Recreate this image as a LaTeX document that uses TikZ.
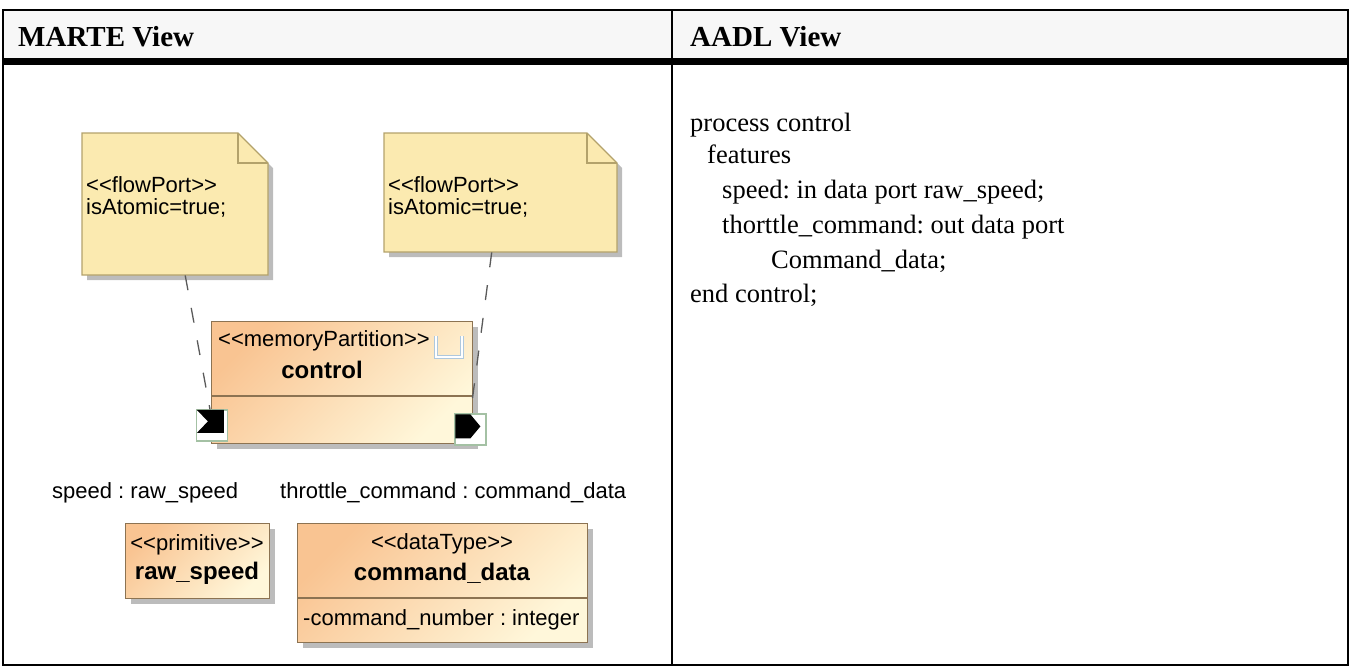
\documentclass[tikz,border=0pt]{standalone}
\usepackage{fontspec}
\setmainfont{Liberation Serif}
\newfontfamily\umlfont{Liberation Sans}
\usetikzlibrary{positioning,calc,shadows}
\frenchspacing
\definecolor{headgray}{HTML}{F7F7F7}
\definecolor{notefill}{HTML}{FBEAB0}
\definecolor{noteline}{HTML}{B3A26B}
\definecolor{boxorange}{HTML}{F9C492}
\definecolor{boxcream}{HTML}{FFF7DA}
\definecolor{boxline}{HTML}{8C7352}
\definecolor{shadegray}{HTML}{BCBCBC}
\definecolor{portline}{HTML}{A4C1A4}
\definecolor{iconblue}{HTML}{AFC8DD}
\definecolor{linkgray}{HTML}{5A5A5A}
\newcommand{\stereo}[1]{<\kern0pt<#1>\kern0pt>}
\newcommand{\flownote}[5]{%
  \filldraw[fill=notefill,draw=noteline,line width=1.3pt,
        drop shadow={shadow xshift=5pt,shadow yshift=-5pt,fill=shadegray,opacity=1}]
        (#2,#3) -- ++(#4-30,0) -- ++(30,30) -- ++(0,#5-30) -- ++(-#4,0) -- cycle;
  \draw[noteline,line width=1.3pt] (#2+#4-30,#3) |- ++(30,30);
  \node[inner sep=0pt,minimum width=#4pt,minimum height=#5pt,anchor=north west] (#1) at (#2,#3) {};
  \node[umltext,anchor=north west,align=left] (#1txt) at ($(#1.north west)+(4,43)$)
        {\stereo{flowPort}\\isAtomic=true;};
}
\tikzset{
  umltext/.style={inner sep=0pt,font=\umlfont\fontsize{22}{22.5}\selectfont},
  umlbold/.style={inner sep=0pt,font=\umlfont\bfseries\fontsize{24}{26}\selectfont},
  umlbox/.style={draw=boxline,line width=1.3pt,top color=boxorange,bottom color=boxcream,
        shading angle=45,inner sep=0pt,anchor=north west,
        drop shadow={shadow xshift=5pt,shadow yshift=-5pt,fill=shadegray,opacity=1}},
  portbox/.style={draw=portline,fill=white,line width=1.2pt,minimum width=31pt,
        minimum height=31pt,inner sep=0pt},
  linkline/.style={draw=linkgray,line width=1.3pt,dash pattern=on 15pt off 18pt},
  headtext/.style={anchor=base west,inner sep=0pt,font=\bfseries\fontsize{29}{31}\selectfont},
  aadltext/.style={anchor=base west,inner sep=0pt,font=\fontsize{26.5}{30}\selectfont}
}
\begin{document}
\begin{tikzpicture}[x=1pt,y=-1pt]
  \useasboundingbox (0,0) rectangle (1351,667);
  \fill[headgray] (3,10) rectangle (1348,58);
  \fill[black] (3,58) rectangle (1348,65);
  \draw[line width=2.5pt] (3,10) rectangle (1348,665);
  \draw[line width=2.5pt] (672,10) -- (672,665);
  \node[headtext] (marte) at (18,46) {MARTE View};
  \node[headtext] (aadl) at (690,46) {AADL View};

  \foreach \dx/\by/\aline [count=\i] in {0/131/process control, 17/163/features,
      32/198/speed: in data port raw\_speed;, 32/233/thorttle\_command: out data port,
      81/268/Command\_data;, 0/302/end control;}
    \node[aadltext] (aadl\i) at (690+\dx,\by) {\aline};

  \flownote{note1}{82}{133}{186}{142}
  \flownote{note2}{384}{133}{233}{119}

  \node[umlbox,minimum width=261pt,minimum height=122pt] (ctrl) at (211,321) {};
  \draw[boxline,line width=1.3pt] ($(ctrl.north west)+(0,75)$) -- ($(ctrl.north east)+(0,75)$);
  \node[umltext,anchor=west] (ctrlst) at (218,341) {\stereo{memoryPartition}};
  \node[umlbold] (ctrlname) at (322,370) {control};
  \draw[iconblue,double=white,double distance=1.6pt,line width=0.9pt]
        (436,336) -- (436,357) -- (462,357) -- (462,336);

  \node[portbox] (inport) at (212,425.5) {};
  \fill[black] ([shift={(1,0.5)}]inport.north west) -- ++(27,0) -- ++(0,23) -- ++(-27,0)
        -- ++(11,-11.5) -- cycle;
  \node[portbox] (outport) at (470.5,429.5) {};
  \fill[black] ([shift={(1,1)}]outport.north west) -- ++(15,0) -- ++(10,12) -- ++(-10,12)
        -- ++(-15,0) -- cycle;

  \draw[linkline] ([xshift=10pt]note1.south) -- ([xshift=-2pt]inport.north);
  \draw[linkline] ([xshift=-9pt]note2.south) -- (outport.north);

  \node[umltext,anchor=west] (speedlbl) at (52,493) {speed : raw\_speed};
  \node[umltext,anchor=west] (thrlbl) at (280,493) {throttle\_command : command\_data};

  \node[umlbox,minimum width=144pt,minimum height=75pt] (rawbox) at (125,523) {};
  \node[umltext] (rawst) at (197,545) {\stereo{primitive}};
  \node[umlbold] (rawname) at (197,573) {raw\_speed};

  \node[umlbox,minimum width=290pt,minimum height=119pt] (cmdbox) at (297,523) {};
  \draw[boxline,line width=1.3pt] ($(cmdbox.north west)+(0,75)$) -- ($(cmdbox.north east)+(0,75)$);
  \node[umltext] (cmdst) at (442,544) {\stereo{dataType}};
  \node[umlbold] (cmdname) at (442,573) {command\_data};
  \node[umltext,anchor=west] (cmdattr) at (303,620) {-command\_number : integer};
\end{tikzpicture}
\end{document}
